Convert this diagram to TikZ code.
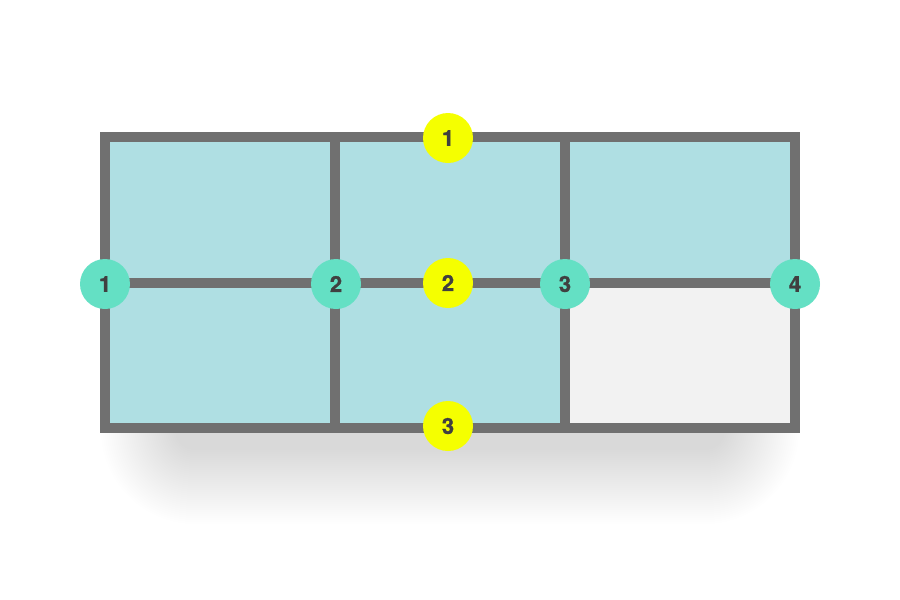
\documentclass[tikz,border=0pt]{standalone}
\usepackage{fontspec}
\setmainfont{TeX Gyre Heros}[BoldFeatures={FakeBold=1.2}]
\definecolor{framegray}{HTML}{707070}
\definecolor{cellteal}{HTML}{AFDFE3}
\definecolor{cellgray}{HTML}{F2F2F2}
\definecolor{dotteal}{HTML}{64E0C4}
\definecolor{dotyellow}{HTML}{F5FF00}
\definecolor{numtext}{HTML}{404040}
\tikzset{
  gridline/.style={draw=framegray, line width=10pt},
  dotbase/.style={circle, minimum size=50pt, inner sep=0pt, text=numtext,
    font=\fontsize{22}{22}\selectfont\bfseries},
  tealdot/.style={dotbase, fill=dotteal},
  yellowdot/.style={dotbase, fill=dotyellow},
  shadowlayer/.style={fill=black, opacity=0.0045},
}
\begin{document}
\begin{tikzpicture}[x=1pt,y=-1pt]
\useasboundingbox (0,0) rectangle (900,600);
\fill[white] (0,0) rectangle (900,600);
% soft shadow (stacked translucent layers)
\foreach \d in {0,2,...,74} {
  \fill[shadowlayer, rounded corners=\d pt+20pt]
    (175-\d,230-\d) rectangle (725+\d,450+\d);
}
% cells
\fill[cellteal] (105,137) rectangle (795,428);
\fill[cellgray] (565,283) rectangle (795,428);
% grid
\draw[gridline] (105,137) rectangle (795,428);
\draw[gridline] (105,283) -- (795,283);
\draw[gridline] (335,137) -- (335,428);
\draw[gridline] (565,137) -- (565,428);
% dots
\node[tealdot] (t1) at (105,284) {1};
\node[tealdot] (t2) at (336,284) {2};
\node[tealdot] (t3) at (565,284) {3};
\node[tealdot] (t4) at (795,284) {4};
\node[yellowdot] (y1) at (448,138) {1};
\node[yellowdot] (y2) at (448,283) {2};
\node[yellowdot] (y3) at (448,426) {3};
\end{tikzpicture}
\end{document}
